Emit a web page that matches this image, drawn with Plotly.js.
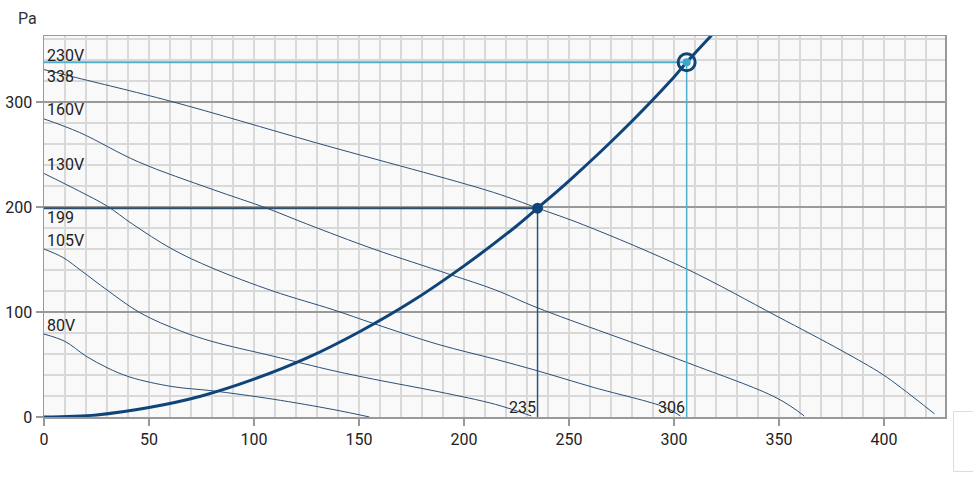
<!DOCTYPE html>
<html>
<head>
<meta charset="utf-8">
<script src="https://cdn.plot.ly/plotly-3.0.1.min.js"></script>
<style>html,body{margin:0;padding:0;background:#fff;}#chart{width:973px;height:493px;}</style>
</head>
<body>
<div id="chart"></div>
<script>
// Fan curves (flow vs pressure Pa)
const curveNames = ["230V", "160V", "130V", "105V", "80V"];
const flow230 = [0, 14, 60, 130, 214, 235, 257, 306, 349, 380, 399, 408, 424];
const pres230 = [331, 324, 301, 261, 214, 199, 183, 141, 96, 63, 41, 28, 3];
const flow160 = [0, 17, 45, 80, 106, 125, 157, 193, 215, 235, 306, 349, 362];
const pres160 = [284, 271, 243, 217, 199, 184, 160, 136, 121, 104, 52, 18, 1];
const flow130 = [0, 17, 30, 42, 61, 80, 109, 138, 157, 188, 215, 235, 262, 296, 303];
const pres130 = [232, 215, 201, 184, 160, 142, 120, 102, 89, 69, 55, 44, 28, 9, 1];
const flow105 = [0, 9, 18, 30, 46, 65, 80, 109, 138, 157, 188, 215, 232];
const pres105 = [160, 152, 139, 121, 99, 82, 72, 58, 44, 36, 24, 12, 1];
const flow80 = [0, 10, 20, 30, 41, 61, 80, 109, 138, 155];
const pres80 = [79, 72, 58, 47, 38, 29, 25, 17, 7, 0];
// System curve
const sysFlow = [0, 25, 50, 75, 100, 125, 150, 175, 200, 225, 235, 250, 275, 300, 306, 318];
const sysPres = [0, 2, 9, 20, 36, 56, 81, 110, 144, 182, 199, 225, 272, 324, 338, 364];
// Operating points
const opFlow = [235, 306];
const opPres = [199, 338];
const opFlowLabels = ["235", "306"];
const opPresLabels = ["199", "338"];
const yTitle = "Pa";

const fanX = [flow230, flow160, flow130, flow105, flow80];
const fanY = [pres230, pres160, pres130, pres105, pres80];

const DARK = "#0f4479";
const FAN = "#2b4f77";
const CYAN = "#4fb0cf";
const traces = [];
for (let i = 0; i < fanX.length; i++) {
  traces.push({x: fanX[i], y: fanY[i], mode: "lines", line: {color: FAN, width: 1, shape: "spline", smoothing: 1}, hoverinfo: "skip", showlegend: false});
}
traces.push({x: [0, opFlow[0]], y: [opPres[0], opPres[0]], mode: "lines", line: {color: "#2d4f6e", width: 2}, showlegend: false});
traces.push({x: [opFlow[0], opFlow[0]], y: [0, opPres[0]], mode: "lines", line: {color: "#2d5577", width: 1.5}, showlegend: false});
traces.push({x: [0, opFlow[1]], y: [opPres[1], opPres[1]], mode: "lines", line: {color: CYAN, width: 2}, showlegend: false});
traces.push({x: [opFlow[1], opFlow[1]], y: [0, opPres[1]], mode: "lines", line: {color: CYAN, width: 1.5}, showlegend: false});
traces.push({x: sysFlow, y: sysPres, mode: "lines", line: {color: DARK, width: 3, shape: "spline", smoothing: 1}, showlegend: false});
traces.push({x: [opFlow[0]], y: [opPres[0]], mode: "markers", marker: {color: DARK, size: 11}, showlegend: false});
traces.push({x: [opFlow[1]], y: [opPres[1]], mode: "markers", marker: {color: "rgba(0,0,0,0)", size: 17, line: {color: DARK, width: 3}}, showlegend: false});
traces.push({x: [opFlow[1]], y: [opPres[1]], mode: "markers", marker: {color: "#38a6cf", size: 8}, showlegend: false});

const annFont = {family: "Roboto, sans-serif", size: 16, color: "#222"};
const annotations = [];
for (let i = 0; i < curveNames.length; i++) {
  annotations.push({x: 0, y: fanY[i][0], xref: "x", yref: "y", text: curveNames[i], showarrow: false, xanchor: "left", yanchor: "middle", yshift: i === 0 ? 14 : 9, xshift: 1, font: annFont});
}
annotations.push({x: 0, y: opPres[1], text: opPresLabels[1], showarrow: false, xanchor: "left", yanchor: "top", yshift: -3, xshift: 1, font: annFont});
annotations.push({x: 0, y: opPres[0], text: opPresLabels[0], showarrow: false, xanchor: "left", yanchor: "top", yshift: 2, xshift: 1, font: annFont});
annotations.push({x: opFlow[0], y: 0, text: opFlowLabels[0], showarrow: false, xanchor: "right", yanchor: "bottom", xshift: 0, yshift: -2, font: annFont});
annotations.push({x: opFlow[1], y: 0, text: opFlowLabels[1], showarrow: false, xanchor: "right", yanchor: "bottom", xshift: 0, yshift: -2, font: annFont});
annotations.push({x: -0.031, y: 1.047, xref: "paper", yref: "paper", text: yTitle, showarrow: false, xanchor: "left", yanchor: "middle", font: {family: "Roboto, sans-serif", size: 16, color: "#333"}});

const layout = {
  width: 973, height: 493,
  margin: {l: 44, r: 28, t: 36, b: 75.5},
  paper_bgcolor: "#ffffff",
  plot_bgcolor: "#f9f9f9",
  font: {family: "Roboto, sans-serif", size: 16, color: "#222"},
  showlegend: false,
  xaxis: {
    range: [0, 429], dtick: 50, tick0: 0,
    showgrid: true, gridcolor: "#d9d9d9", gridwidth: 1.5,
    minor: {dtick: 10, showgrid: true, gridcolor: "#d9d9d9", gridwidth: 1.5},
    ticks: "outside", ticklen: 7, tickcolor: "#999", tickwidth: 1.5,
    showline: true, linecolor: "#999", linewidth: 1.5, mirror: true, zeroline: false,
    tickfont: {family: "Roboto, sans-serif", size: 16, color: "#222"}, fixedrange: true
  },
  yaxis: {
    range: [0, 363], dtick: 100, tick0: 0,
    showgrid: true, gridcolor: "#9a9a9a", gridwidth: 1.5,
    minor: {dtick: 20, showgrid: true, gridcolor: "#d9d9d9", gridwidth: 1.5},
    ticks: "outside", ticklen: 7, tickcolor: "#999", tickwidth: 1.5,
    showline: true, linecolor: "#999", linewidth: 1.5, mirror: true, zeroline: false,
    tickfont: {family: "Roboto, sans-serif", size: 16, color: "#222"}, fixedrange: true
  },
  annotations: annotations,
  shapes: [{type: "rect", xref: "paper", yref: "paper", x0: 1.0095, x1: 1.06, y0: -0.143, y1: 0.0143, line: {color: "#dddddd", width: 1}, fillcolor: "#ffffff", layer: "above"}]
};
Plotly.newPlot("chart", traces, layout, {displayModeBar: false, staticPlot: true});
</script>
</body>
</html>
